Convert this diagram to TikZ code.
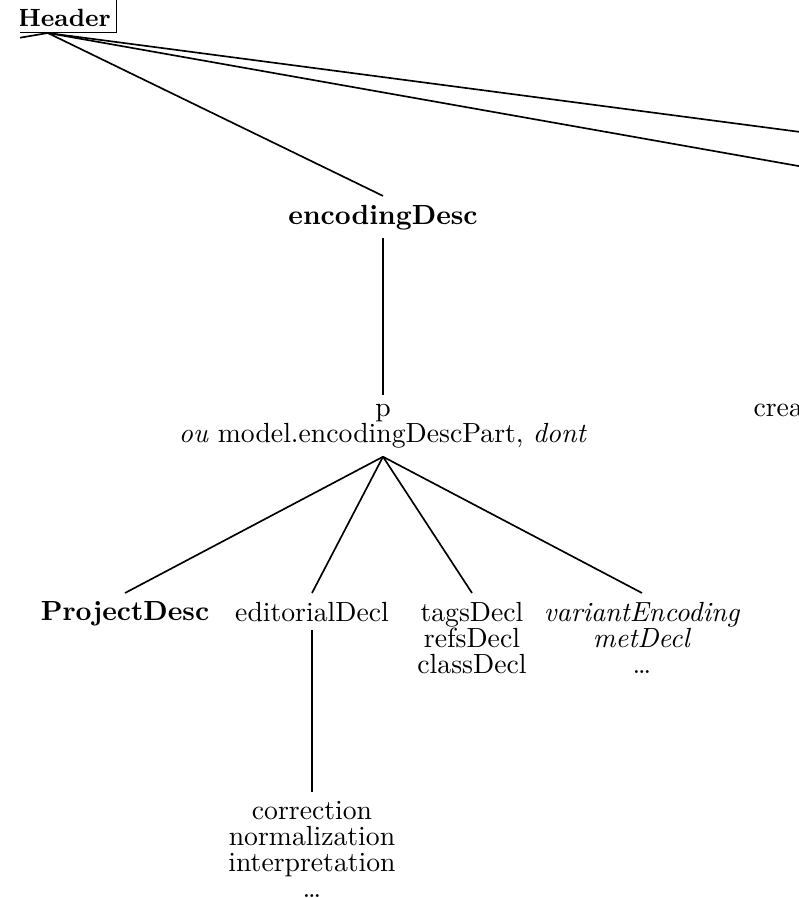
\documentclass[tikz,border=0pt]{standalone}
\newcommand\tightlines{\fontsize{10}{9.4}\selectfont\lineskiplimit=-10pt\relax}
\begin{document}
\begin{tikzpicture}[x=0.361pt,y=-0.361pt,
  lbl/.style={inner sep=3pt, align=center, font=\tightlines},
  hdr/.style={draw, inner sep=2pt, text height=8.5pt, font=\small\bfseries},
  edge/.style={draw, line width=0.6pt}]
\useasboundingbox (0,0) rectangle (798,898);
\clip (20,-60) rectangle (900,960);
\node[hdr, anchor=south east] (head) at (117,33) {teiHeader};
\node[lbl, anchor=base] (enc) at (383,224) {\textbf{encodingDesc}};
\node[lbl, anchor=north] (pn) at (383,395) {p\\\textit{ou} model.encodingDescPart, \textit{dont}};
\node[lbl, anchor=north] (proj) at (125,593) {\textbf{ProjectDesc}};
\node[lbl, anchor=north] (edit) at (312,593) {editorialDecl};
\node[lbl, anchor=north] (tags) at (472,593) {tagsDecl\\refsDecl\\classDecl};
\node[lbl, anchor=north] (var) at (642,593) {\textit{variantEncoding}\\\textit{metDecl}\\\dots};
\node[lbl, anchor=north] (corr) at (312,792) {correction\\normalization\\interpretation\\\dots};
\node[lbl, anchor=base west, inner sep=0pt] (crea) at (753,416) {creation};
\coordinate (fileC) at (-700,160);
\coordinate (profC) at (900,145.1);
\coordinate (revC) at (900,184);
\draw[edge] (head.south) -- (fileC);
\draw[edge] (head.south) -- (enc.north);
\draw[edge] (head.south) -- (profC);
\draw[edge] (head.south) -- (revC);
\draw[edge] (enc.south) -- (pn.north);
\draw[edge] (pn.south) -- (proj.north);
\draw[edge] (pn.south) -- (edit.north);
\draw[edge] (pn.south) -- (tags.north);
\draw[edge] (pn.south) -- (var.north);
\draw[edge] (edit.south) -- (corr.north);
\end{tikzpicture}
\end{document}
